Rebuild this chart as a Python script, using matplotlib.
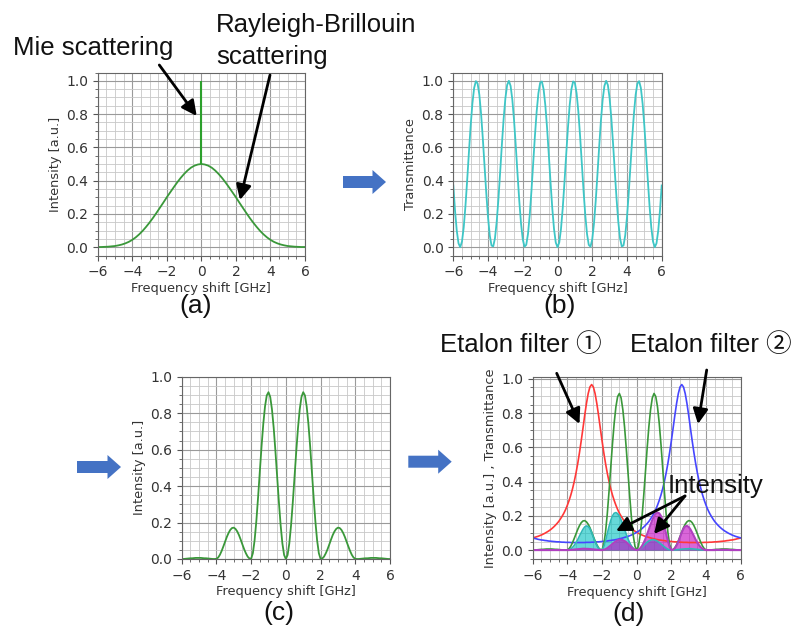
import numpy as np
import matplotlib
matplotlib.use("Agg")
import matplotlib.pyplot as plt
from matplotlib.patches import FancyArrow, FancyArrowPatch

# ---------------- data ----------------
# (a) Rayleigh-Brillouin spectrum, 0.2 GHz sampling
freq_rb = np.linspace(-6.0, 6.0, 61)
rb_intensity = [0.001, 0.001, 0.002, 0.003, 0.005, 0.007, 0.011, 0.016, 0.023, 0.032,
                0.044, 0.059, 0.077, 0.098, 0.122, 0.148, 0.176, 0.206, 0.237, 0.268,
                0.300, 0.330, 0.360, 0.389, 0.416, 0.440, 0.461, 0.478, 0.490, 0.497,
                0.500,
                0.497, 0.490, 0.478, 0.461, 0.440, 0.416, 0.389, 0.360, 0.330, 0.300,
                0.268, 0.237, 0.206, 0.176, 0.148, 0.122, 0.098, 0.077, 0.059, 0.044,
                0.032, 0.023, 0.016, 0.011, 0.007, 0.005, 0.003, 0.002, 0.001, 0.001]
mie_shift = [0.0]
mie_peak = [1.0]

# 0.1 GHz sampling for the other curves
freq = np.linspace(-6.0, 6.0, 121)

# (b) etalon transmittance
transmittance = [0.371, 0.219, 0.099, 0.023, 0.000, 0.034, 0.119, 0.248, 0.404, 0.571,
                 0.731, 0.864, 0.957, 0.998, 0.984, 0.916, 0.801, 0.653, 0.487, 0.323,
                 0.179, 0.071, 0.010, 0.005, 0.054, 0.154, 0.292, 0.454, 0.621, 0.774,
                 0.896, 0.975, 1.000, 0.969, 0.886, 0.760, 0.604, 0.437, 0.277, 0.142,
                 0.047, 0.003, 0.014, 0.079, 0.192, 0.339, 0.504, 0.669, 0.815, 0.925,
                 0.988, 0.996, 0.949, 0.852, 0.716, 0.555, 0.388, 0.233, 0.109, 0.028,
                 0.000,
                 0.028, 0.109, 0.233, 0.388, 0.555, 0.716, 0.852, 0.949, 0.996,
                 0.988, 0.925, 0.815, 0.669, 0.504, 0.339, 0.192, 0.079, 0.014, 0.003,
                 0.047, 0.142, 0.277, 0.437, 0.604, 0.760, 0.886, 0.969, 1.000, 0.975,
                 0.896, 0.774, 0.621, 0.454, 0.292, 0.154, 0.054, 0.005, 0.010, 0.071,
                 0.179, 0.323, 0.487, 0.653, 0.801, 0.916, 0.984, 0.998, 0.957, 0.864,
                 0.731, 0.571, 0.404, 0.248, 0.119, 0.034, 0.000, 0.023, 0.099, 0.219,
                 0.371]

# (c) transmitted intensity
intensity_c = [0.000, 0.000, 0.001, 0.002, 0.003, 0.004, 0.004, 0.005, 0.006, 0.006,
               0.006, 0.006, 0.005, 0.004, 0.004, 0.003, 0.002, 0.001, 0.000, 0.000,
               0.001, 0.008, 0.023, 0.044, 0.069, 0.095, 0.121, 0.143, 0.160, 0.170,
               0.172, 0.165, 0.151, 0.131, 0.106, 0.079, 0.053, 0.031, 0.013, 0.003,
               0.001, 0.032, 0.103, 0.208, 0.338, 0.479, 0.618, 0.741, 0.837, 0.897,
               0.915, 0.889, 0.821, 0.719, 0.591, 0.450, 0.311, 0.185, 0.086, 0.022,
               0.000,
               0.022, 0.086, 0.185, 0.311, 0.450, 0.591, 0.719, 0.821, 0.889,
               0.915, 0.897, 0.837, 0.741, 0.618, 0.479, 0.338, 0.208, 0.103, 0.032,
               0.001, 0.003, 0.013, 0.031, 0.053, 0.079, 0.106, 0.131, 0.151, 0.165,
               0.172, 0.170, 0.160, 0.143, 0.121, 0.095, 0.069, 0.044, 0.023, 0.008,
               0.001, 0.000, 0.000, 0.001, 0.002, 0.003, 0.004, 0.004, 0.005, 0.006,
               0.006, 0.006, 0.006, 0.005, 0.004, 0.004, 0.003, 0.002, 0.001, 0.000,
               0.000]

# (d) etalon filter 1 (red) and 2 (blue)
etalon1 = [0.071, 0.074, 0.077, 0.080, 0.084, 0.088, 0.093, 0.098, 0.104, 0.110,
           0.117, 0.125, 0.134, 0.144, 0.155, 0.167, 0.182, 0.198, 0.216, 0.237,
           0.262, 0.290, 0.322, 0.359, 0.402, 0.451, 0.507, 0.570, 0.639, 0.712,
           0.787, 0.856, 0.914, 0.953, 0.967, 0.953, 0.914, 0.856, 0.787, 0.712,
           0.639, 0.570, 0.507, 0.451, 0.402, 0.359, 0.322, 0.290, 0.262, 0.237,
           0.216, 0.198, 0.182, 0.167, 0.155, 0.144, 0.134, 0.125, 0.117, 0.110,
           0.104, 0.098, 0.093, 0.088, 0.084, 0.080, 0.077, 0.074, 0.071, 0.068,
           0.066, 0.063, 0.061, 0.059, 0.058, 0.056, 0.055, 0.053, 0.052, 0.051,
           0.050, 0.049, 0.048, 0.048, 0.047, 0.046, 0.046, 0.045, 0.045, 0.045,
           0.044, 0.044, 0.044, 0.044, 0.044, 0.044, 0.044, 0.044, 0.044, 0.045,
           0.045, 0.045, 0.046, 0.046, 0.047, 0.048, 0.048, 0.049, 0.050, 0.051,
           0.052, 0.053, 0.055, 0.056, 0.058, 0.059, 0.061, 0.063, 0.066, 0.068,
           0.071]
etalon2 = [0.071, 0.068, 0.066, 0.063, 0.061, 0.059, 0.058, 0.056, 0.055, 0.053,
           0.052, 0.051, 0.050, 0.049, 0.048, 0.048, 0.047, 0.046, 0.046, 0.045,
           0.045, 0.045, 0.044, 0.044, 0.044, 0.044, 0.044, 0.044, 0.044, 0.044,
           0.044, 0.045, 0.045, 0.045, 0.046, 0.046, 0.047, 0.048, 0.048, 0.049,
           0.050, 0.051, 0.052, 0.053, 0.055, 0.056, 0.058, 0.059, 0.061, 0.063,
           0.066, 0.068, 0.071, 0.074, 0.077, 0.080, 0.084, 0.088, 0.093, 0.098,
           0.104, 0.110, 0.117, 0.125, 0.134, 0.144, 0.155, 0.167, 0.182, 0.198,
           0.216, 0.237, 0.262, 0.290, 0.322, 0.359, 0.402, 0.451, 0.507, 0.570,
           0.639, 0.712, 0.787, 0.856, 0.914, 0.953, 0.967, 0.953, 0.914, 0.856,
           0.787, 0.712, 0.639, 0.570, 0.507, 0.451, 0.402, 0.359, 0.322, 0.290,
           0.262, 0.237, 0.216, 0.198, 0.182, 0.167, 0.155, 0.144, 0.134, 0.125,
           0.117, 0.110, 0.104, 0.098, 0.093, 0.088, 0.084, 0.080, 0.077, 0.074,
           0.071]
# intensities passed through each filter (shaded)
through1 = [0.000, 0.000, 0.000, 0.000, 0.000, 0.000, 0.000, 0.001, 0.001, 0.001,
            0.001, 0.001, 0.001, 0.001, 0.001, 0.000, 0.000, 0.000, 0.000, 0.000,
            0.000, 0.002, 0.007, 0.016, 0.028, 0.043, 0.061, 0.082, 0.102, 0.121,
            0.135, 0.141, 0.138, 0.125, 0.103, 0.075, 0.048, 0.027, 0.010, 0.002,
            0.001, 0.018, 0.052, 0.094, 0.136, 0.172, 0.199, 0.215, 0.219, 0.213,
            0.198, 0.176, 0.149, 0.120, 0.092, 0.065, 0.042, 0.023, 0.010, 0.002,
            0.000, 0.002, 0.008, 0.016, 0.026, 0.036, 0.046, 0.053, 0.058, 0.061,
            0.060, 0.057, 0.051, 0.044, 0.036, 0.027, 0.019, 0.011, 0.005, 0.002,
            0.000, 0.000, 0.001, 0.002, 0.003, 0.004, 0.005, 0.006, 0.007, 0.007,
            0.008, 0.008, 0.007, 0.006, 0.005, 0.004, 0.003, 0.002, 0.001, 0.000,
            0.000, 0.000, 0.000, 0.000, 0.000, 0.000, 0.000, 0.000, 0.000, 0.000,
            0.000, 0.000, 0.000, 0.000, 0.000, 0.000, 0.000, 0.000, 0.000, 0.000,
            0.000]
through2 = [0.000, 0.000, 0.000, 0.000, 0.000, 0.000, 0.000, 0.000, 0.000, 0.000,
            0.000, 0.000, 0.000, 0.000, 0.000, 0.000, 0.000, 0.000, 0.000, 0.000,
            0.000, 0.000, 0.001, 0.002, 0.003, 0.004, 0.005, 0.006, 0.007, 0.008,
            0.008, 0.007, 0.007, 0.006, 0.005, 0.004, 0.003, 0.002, 0.001, 0.000,
            0.000, 0.002, 0.005, 0.011, 0.019, 0.027, 0.036, 0.044, 0.051, 0.057,
            0.060, 0.061, 0.058, 0.053, 0.046, 0.036, 0.026, 0.016, 0.008, 0.002,
            0.000, 0.002, 0.010, 0.023, 0.042, 0.065, 0.092, 0.120, 0.149, 0.176,
            0.198, 0.213, 0.219, 0.215, 0.199, 0.172, 0.136, 0.094, 0.052, 0.018,
            0.001, 0.002, 0.010, 0.027, 0.048, 0.075, 0.103, 0.125, 0.138, 0.141,
            0.135, 0.121, 0.102, 0.082, 0.061, 0.043, 0.028, 0.016, 0.007, 0.002,
            0.000, 0.000, 0.000, 0.000, 0.000, 0.000, 0.001, 0.001, 0.001, 0.001,
            0.001, 0.001, 0.001, 0.001, 0.000, 0.000, 0.000, 0.000, 0.000, 0.000,
            0.000]

xticks = [-6, -4, -2, 0, 2, 4, 6]
yticks = [0.0, 0.2, 0.4, 0.6, 0.8, 1.0]

# ---------------- styling ----------------
W, H = 795, 628
plt.rcParams['font.family'] = ['DejaVu Sans']
ANN_FONT = ['Liberation Sans', 'Noto Sans CJK JP', 'DejaVu Sans']
GREEN = '#3a983a'

fig = plt.figure(figsize=(W / 100, H / 100), dpi=100)


def px_axes(left, right, top, bottom):
    return fig.add_axes([left / W, 1 - bottom / H, (right - left) / W, (bottom - top) / H])


def style(ax, ylim, ylabel):
    ax.set_xlim(-6, 6)
    ax.set_ylim(*ylim)
    ax.set_xticks(xticks)
    ax.set_yticks(yticks)
    ax.minorticks_on()
    ax.set_axisbelow(True)
    ax.grid(which='major', color='#9a9a9a', lw=0.8)
    ax.grid(which='minor', color='#c8c8c8', lw=0.6)
    ax.tick_params(which='both', labelsize=10, colors='#555555', labelcolor='#333333')
    for s in ax.spines.values():
        s.set_color('#666666')
    ax.set_xlabel('Frequency shift [GHz]', fontsize=9.3, color='#333333', labelpad=2)
    ax.set_ylabel(ylabel, fontsize=9.3, color='#333333', labelpad=3)


# (a)
ax_a = px_axes(97.7, 305.0, 72.5, 255.5)
ax_a.plot(freq_rb, rb_intensity, color=GREEN, lw=1.3)
ax_a.vlines(mie_shift, max(rb_intensity), mie_peak, color='#2ca02c', lw=1.5)
style(ax_a, (-0.05, 1.05), 'Intensity [a.u.]')

# (b)
ax_b = px_axes(453.3, 661.7, 72.5, 255.5)
ax_b.plot(freq, transmittance, color='#3ec6c6', lw=1.3)
style(ax_b, (-0.05, 1.05), 'Transmittance')

# (c)
ax_c = px_axes(181.7, 390.0, 376.7, 559.0)
ax_c.plot(freq, intensity_c, color=GREEN, lw=1.3)
style(ax_c, (0.0, 1.0), 'Intensity [a.u.]')

# (d)
ax_d = px_axes(532.7, 740.7, 376.7, 559.3)
ax_d.plot(freq, etalon1, color='#ff3838', lw=1.2)
ax_d.plot(freq, etalon2, color='#4646ff', lw=1.2)
ax_d.plot(freq, intensity_c, color=GREEN, lw=1.2)
ax_d.fill_between(freq, 0, through1, color='#00c0c0', alpha=0.6, lw=0)
ax_d.plot(freq, through1, color='#30b8b8', lw=1.2)
ax_d.fill_between(freq, 0, through2, color='#c000c0', alpha=0.6, lw=0)
ax_d.plot(freq, through2, color='#b040c0', lw=1.5)
style(ax_d, (-0.054, 1.013), 'Intensity [a.u.] , Transmittance')


# ---------------- annotations ----------------
def ftext(x, y, s, size=18.5, **kw):
    fig.text(x / W, 1 - y / H, s, fontsize=size, family=ANN_FONT, color='#111111', **kw)


def black_arrow(x0, y0, x1, y1):
    fig.add_artist(FancyArrowPatch((x0 / W, 1 - y0 / H), (x1 / W, 1 - y1 / H),
                                   transform=fig.transFigure,
                                   arrowstyle='-|>,head_length=0.6,head_width=0.3',
                                   mutation_scale=15, lw=2.0, color='black',
                                   shrinkA=0, shrinkB=0))


def blue_arrow(x0, x1, yc):
    fig.add_artist(FancyArrow(x0 / W, 1 - yc / H, (x1 - x0) / W, 0,
                              width=12 / H, head_width=24 / H, head_length=13.5 / W,
                              length_includes_head=True, transform=fig.transFigure,
                              color='#4472c4', lw=0))


ftext(12.7, 55, 'Mie scattering', va='baseline', ha='left')
ftext(216, 31.7, 'Rayleigh-Brillouin', va='baseline', ha='left')
ftext(216, 64, 'scattering', va='baseline', ha='left')
ftext(440, 351.7, 'Etalon filter ①', va='baseline', ha='left')
ftext(630, 351.7, 'Etalon filter ②', va='baseline', ha='left')
ftext(668, 493.3, 'Intensity', va='baseline', ha='left')

black_arrow(159.3, 65, 196.7, 116)
black_arrow(270, 75, 240, 200)
black_arrow(556.7, 373.3, 579.5, 424)
black_arrow(706.7, 370, 698, 424)
black_arrow(685, 496, 616, 531)
black_arrow(685, 496, 654, 534)

blue_arrow(343, 386, 182)
blue_arrow(77, 121, 467)
blue_arrow(408.3, 451.7, 461.7)

ftext(196, 305.5, '(a)', size=19, ha='center', va='center')
ftext(560, 305.5, '(b)', size=19, ha='center', va='center')
ftext(279, 613, '(c)', size=19, ha='center', va='center')
ftext(629, 613.5, '(d)', size=19, ha='center', va='center')

fig.savefig('out.png', dpi=100, facecolor='white')
